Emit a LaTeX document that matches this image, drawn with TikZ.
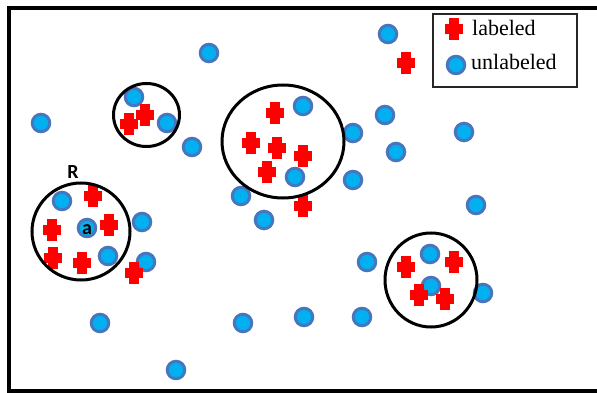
\documentclass[tikz,border=0pt]{standalone}
\usepackage{fontspec}
\setmainfont{Liberation Serif}
\newfontfamily\labfont{Carlito}
\usetikzlibrary{shapes.geometric}
\definecolor{dotfill}{RGB}{0,176,240}
\definecolor{dotedge}{RGB}{70,118,190}
\definecolor{plusred}{RGB}{255,0,0}
\tikzset{
  unl/.style={circle, fill=dotfill, draw=dotedge, line width=3pt, minimum size=17.5pt, inner sep=0pt},
  lab/.style={inner sep=0pt, minimum width=18pt, minimum height=22pt,
    path picture={
      \fill[plusred] ([xshift=-4.8pt]path picture bounding box.north) rectangle ([xshift=4.8pt]path picture bounding box.south);
      \fill[plusred] ([yshift=-5.2pt]path picture bounding box.west) rectangle ([yshift=5.2pt]path picture bounding box.east);}},
  ring/.style={draw=black, line width=3pt, inner sep=0pt},
  legtext/.style={anchor=base west, inner sep=0pt, font=\fontsize{22}{24}\selectfont},
  lettr/.style={inner sep=0pt, font=\labfont\bfseries\fontsize{20}{22}\selectfont},
}
\begin{document}
\begin{tikzpicture}[x=1pt,y=-1pt]
\clip (0,0) rectangle (597,393);
\fill[white] (0,0) rectangle (597,393);
% frame
\draw[line width=4pt] (603,8) -- (8.5,8) -- (8.5,391) -- (603,391);
% legend
\draw[line width=2pt, draw=black!85] (433,14) rectangle (577,87);
\node[lab] (lg1) at (454,29) {};
\node[unl] (lg2) at (456,65) {};
\node[legtext] (t1) at (472,36) {labeled};
\node[legtext] (t2) at (471,70) {unlabeled};
% unlabeled points
\foreach \n/\x/\y in {1/209/53, 2/388/34, 3/41/123, 4/134/97, 5/167/123, 6/192/147,
  7/303/106, 8/295/177, 9/353/133, 10/385/115, 11/396/152, 12/464/132, 13/353/180,
  14/241/196, 15/264/220, 16/476/205, 17/62/201, 18/87/228, 19/142/222, 20/108/256,
  21/146/262, 22/367/262, 23/430/254, 24/431/286, 25/483/293, 26/100/323, 27/243/323,
  28/304/317, 29/362/317, 30/176/370}
  \node[unl] (u\n) at (\x,\y) {};
% labeled points
\foreach \n/\x/\y in {1/129/124, 2/145/115, 3/275/113, 4/251/143, 5/277/148, 6/303/156,
  7/267/172, 8/303/206, 9/406/63, 10/134/273, 11/93/196, 12/52/230, 13/109/225,
  14/53/258, 15/82/263, 16/406/267, 17/454/262, 18/419/295, 19/445/299}
  \node[lab] (l\n) at (\x,\y) {};
% neighbourhood circles
\node[ring, ellipse, minimum width=66pt, minimum height=63pt] (c1) at (146.5,115) {};
\node[ring, ellipse, minimum width=122pt, minimum height=113pt] (c2) at (283,141.5) {};
\node[ring, ellipse, minimum width=98pt, minimum height=97pt] (c3) at (81,231.5) {};
\node[ring, ellipse, minimum width=92pt, minimum height=94pt] (c4) at (431,280) {};
% letters
\node[lettr] (R) at (73,172) {R};
\node[lettr] (a) at (87,230) {a};
\end{tikzpicture}
\end{document}
